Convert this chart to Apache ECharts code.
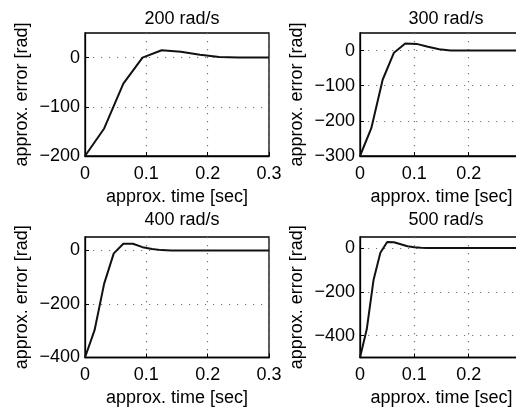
<!DOCTYPE html>
<html>
<head>
<meta charset="utf-8">
<script src="https://cdn.jsdelivr.net/npm/echarts@6/dist/echarts.min.js"></script>
<style>html,body{margin:0;padding:0;background:#fff}#c{width:516px;height:411px}</style>
</head>
<body>
<div id="c"></div>
<script>
const titles = ['200 rad/s', '300 rad/s', '400 rad/s', '500 rad/s'];
const t200 = [0, 0.03125, 0.0625, 0.09375, 0.125, 0.15625, 0.1875, 0.21875, 0.25, 0.28125, 0.3];
const e200 = [-200, -144, -53, 0, 15, 12, 6, 1, 0, 0, 0];
const t300 = [0, 0.0208, 0.0417, 0.0625, 0.0833, 0.1042, 0.125, 0.1458, 0.1667, 0.1875, 0.3];
const e300 = [-300, -221, -83, -6, 20, 19, 11, 4, 0, 0, 0];
const t400 = [0, 0.0156, 0.03125, 0.0469, 0.0625, 0.0781, 0.0938, 0.1094, 0.125, 0.1406, 0.3];
const e400 = [-400, -298, -124, -11, 25, 25, 12, 5, 1, 0, 0];
const t500 = [0, 0.0125, 0.025, 0.0375, 0.05, 0.0625, 0.075, 0.0875, 0.1, 0.1125, 0.125, 0.3];
const e500 = [-500, -370, -145, -22, 27, 26, 17, 8, 3, 1, 0, 0];
const yMins = [-200, -300, -400, -500];
const yTicks = [[-200, -100, 0], [-300, -200, -100, 0], [-400, -200, 0], [-400, -200, 0]];
const xTicks = [0, 0.1, 0.2, 0.3];
const xLabelsLeft = [0, 0.1, 0.2, 0.3];
const xLabelsRight = [0, 0.1, 0.2];
const xName = 'approx. time [sec]';
const yName = 'approx. error [rad]';

const T = [t200, t300, t400, t500];
const E = [e200, e300, e400, e500];
const FONT = 'Liberation Sans';
const grids = [
  {left: 85, top: 33, width: 184, height: 123},
  {left: 360, top: 33, width: 163, height: 123},
  {left: 85, top: 237, width: 184, height: 120.5},
  {left: 360, top: 237, width: 163, height: 120.5}
];
const titlePos = [
  {left: 177, top: 5}, {left: 441, top: 5}, {left: 177, top: 206}, {left: 441, top: 206}
];
const fmt = v => String(v).replace('-', '\u2212');
const dotted = {show: true, lineStyle: {color: '#777', type: [1.2, 6.8], width: 1.2}};
const opt = {
  animation: false,
  backgroundColor: '#fff',
  title: titles.map((s, i) => ({text: s, left: titlePos[i].left, top: titlePos[i].top, textAlign: 'center',
    textStyle: {fontFamily: FONT, fontSize: 18, fontWeight: 'normal', color: '#000'}})),
  grid: grids.map(g => Object.assign({show: true, borderColor: '#000', borderWidth: 1.3, containLabel: false, outerBoundsMode: 'none'}, g)),
  xAxis: grids.map((g, i) => ({
    type: 'value', gridIndex: i, min: 0, max: 0.3, interval: 0.1,
    name: xName, nameLocation: 'middle', nameGap: 32,
    nameTextStyle: {fontFamily: FONT, fontSize: 18, color: '#000'},
    axisLine: {show: true, onZero: false, lineStyle: {color: '#000', width: 1.3}},
    axisTick: {show: true, inside: true, length: 4, lineStyle: {color: '#000'}, customValues: xTicks},
    axisLabel: {fontFamily: FONT, fontSize: 18, color: '#000', margin: 9, formatter: fmt,
      customValues: (i % 2 === 0) ? xLabelsLeft : xLabelsRight, showMaxLabel: true},
    splitLine: dotted
  })),
  yAxis: grids.map((g, i) => ({
    type: 'value', gridIndex: i, min: yMins[i], max: 50,
    name: yName, nameLocation: 'middle', nameGap: 54,
    nameTextStyle: {fontFamily: FONT, fontSize: 18, color: '#000'},
    axisLine: {show: true, onZero: false, lineStyle: {color: '#000', width: 1.3}},
    axisTick: {show: true, inside: true, length: 4, lineStyle: {color: '#000'}, customValues: yTicks[i]},
    axisLabel: {fontFamily: FONT, fontSize: 18, color: '#000', margin: 5, formatter: fmt, customValues: yTicks[i]},
    splitLine: dotted
  })),
  series: T.map((t, i) => ({
    type: 'line', xAxisIndex: i, yAxisIndex: i, showSymbol: false, symbol: 'none',
    lineStyle: {color: '#111', width: 2},
    data: t.map((x, j) => [x, E[i][j]])
  }))
};
const chart = echarts.init(document.getElementById('c'), null, {renderer: 'canvas'});
chart.setOption(opt);
</script>
</body>
</html>
